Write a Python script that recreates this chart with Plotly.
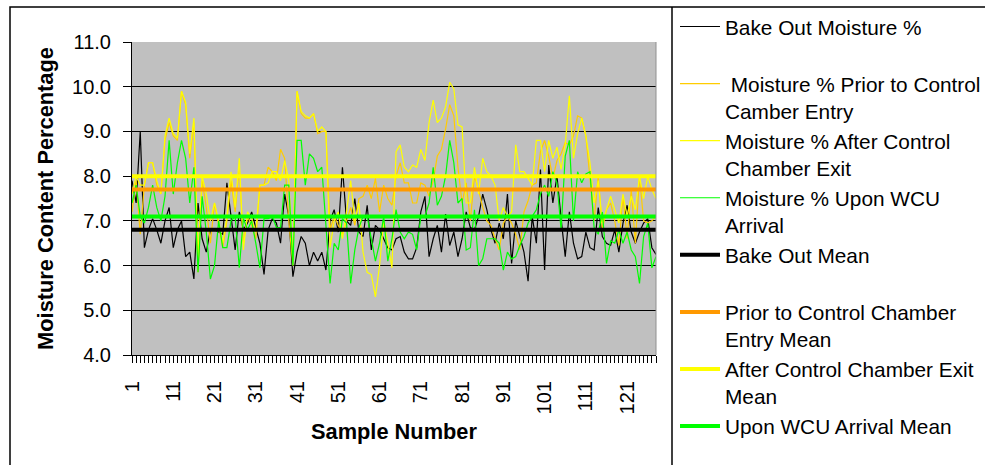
import plotly.graph_objects as go

samples = list(range(1, 129))

bake_out = [
    7.9, 7.4, 9.0, 6.4, 6.8, 7.05, 6.8, 6.5, 7.0, 7.3, 6.4, 6.8, 7.0, 6.2, 6.3, 5.7, 7.4, 6.6, 6.3, 6.8,
    6.8, 6.75, 6.7, 7.85, 7.1, 6.35, 7.2, 6.8, 6.95, 7.2, 6.85, 6.5, 5.8, 6.8, 7.05, 6.95, 6.5, 7.6, 7.1, 5.75, 6.3,
    6.65, 6.5, 6.0, 6.3, 6.1, 6.3, 5.9, 7.0, 7.25, 6.75, 8.2, 7.0, 6.9, 7.5, 6.75, 6.65, 7.35, 6.35, 6.9, 6.8, 6.6,
    6.4, 6.35, 6.6, 6.65, 6.3, 6.15, 6.15, 6.4, 7.2, 7.55, 6.2, 6.6, 6.9, 6.3, 7.15, 6.45, 6.75, 6.2, 6.6, 7.2, 6.85,
    6.8, 7.1, 7.6, 7.25, 6.8, 6.5, 6.95, 6.6, 7.6, 6.05, 7.0, 6.65, 6.3, 5.65, 7.1, 6.5, 8.15, 5.9, 8.25, 7.4, 8.0,
    7.05, 6.2, 7.2, 6.5, 6.15, 6.2, 6.75, 6.4, 6.35, 7.3, 6.65, 6.5, 6.45, 6.8, 6.3, 6.95, 7.35, 6.75, 6.5, 6.75,
    6.95, 7.05, 6.4, 6.25,
]

prior_entry = [
    7.2, 7.9, 6.7, 7.8, 8.3, 8.3, 7.8, 7.6, 8.8, 9.2, 8.9, 8.8, 9.9, 9.6, 8.4, 9.2, 5.85, 7.9, 7.3, 6.5,
    7.4, 6.9, 6.4, 7.0, 7.9, 7.2, 8.2, 6.5, 7.1, 6.9, 6.6, 7.8, 7.8, 8.2, 8.1, 7.9, 8.6, 8.4, 7.0, 6.0, 9.9,
    9.4, 9.3, 9.3, 9.4, 8.95, 9.0, 9.0, 6.8, 7.1, 6.9, 6.7, 7.0, 7.3, 6.9, 7.5, 7.55, 7.8, 7.5, 7.95, 7.2, 7.8,
    7.5, 7.35, 8.0, 8.3, 7.85, 7.85, 7.4, 7.4, 7.85, 7.8, 7.55, 7.9, 8.45, 8.6, 9.05, 9.6, 9.35, 8.2, 7.4, 7.85, 7.0,
    8.0, 7.7, 7.3, 7.0, 6.9, 6.6, 6.35, 6.95, 7.1, 6.95, 6.7, 6.35, 7.2, 7.45, 7.8, 7.85, 8.55, 8.8, 8.45, 7.95, 8.35,
    8.5, 8.75, 8.7, 8.9, 9.35, 9.3, 8.9, 8.0, 7.0, 8.0, 6.8, 7.25, 7.4, 7.0, 6.45, 7.55, 6.6, 7.7, 6.5, 8.0,
    7.0, 6.95, 7.0, 7.1,
]

after_exit = [
    7.6, 8.0, 7.8, 7.8, 8.3, 8.3, 7.9, 7.6, 8.9, 9.3, 8.95, 8.85, 9.9, 9.65, 8.5, 9.3, 6.2, 8.0, 7.6, 7.0,
    7.4, 7.0, 6.5, 7.1, 8.1, 7.3, 8.4, 6.35, 7.2, 7.05, 6.75, 7.8, 7.8, 7.85, 8.1, 8.1, 7.9, 8.35, 7.9, 6.1, 9.9,
    9.45, 9.35, 9.3, 9.4, 9.0, 9.1, 9.0, 6.4, 7.0, 7.2, 6.6, 7.2, 7.9, 7.0, 7.4, 6.3, 5.85, 5.8, 5.3, 6.0, 7.0,
    6.5, 5.95, 8.55, 8.7, 8.2, 8.1, 8.25, 8.2, 8.6, 8.35, 9.2, 9.7, 9.2, 9.3, 9.55, 10.1, 9.95, 9.15, 9.1, 7.4, 7.4,
    8.2, 7.6, 8.4, 8.1, 8.0, 7.8, 7.0, 7.3, 7.1, 7.2, 8.7, 8.1, 8.1, 7.95, 7.8, 8.8, 8.8, 8.1, 8.8, 8.4, 8.65,
    8.15, 8.7, 9.8, 8.4, 8.95, 9.3, 8.9, 8.3, 7.4, 7.9, 6.95, 7.25, 7.55, 7.25, 6.95, 7.6, 7.1, 7.55, 7.25, 8.0,
    7.5, 8.0, 7.7, 7.5,
]

wcu_arrival = [
    7.4, 7.8, 7.1, 6.95, 7.3, 7.8, 7.3, 7.0, 7.55, 8.8, 7.6, 8.3, 8.8, 8.4, 7.4, 8.2, 5.85, 7.55, 6.75, 5.7,
    6.0, 7.0, 6.4, 6.4, 7.0, 7.1, 5.95, 7.05, 6.8, 7.0, 6.5, 5.95, 7.05, 7.05, 7.1, 6.85, 6.85, 7.8, 7.8, 6.0, 8.8,
    8.8, 7.8, 8.5, 8.4, 8.1, 8.2, 6.9, 5.6, 6.5, 6.35, 7.05, 6.95, 5.6, 6.35, 6.85, 7.1, 7.1, 6.6, 6.1, 6.5, 7.1,
    6.1, 6.6, 7.25, 6.75, 6.6, 6.75, 6.7, 6.35, 7.1, 7.1, 7.4, 8.2, 7.35, 7.55, 8.0, 8.8, 8.3, 7.4, 7.5, 6.35, 6.4,
    7.25, 6.0, 6.15, 6.6, 6.6, 6.6, 6.5, 5.9, 6.3, 6.15, 6.2, 6.45, 6.65, 6.95, 7.1, 7.25, 7.6, 7.8, 7.55, 8.1, 7.85,
    6.8, 8.45, 8.8, 7.0, 8.1, 7.85, 8.05, 8.1, 6.85, 6.7, 7.2, 6.05, 6.55, 6.5, 6.8, 6.5, 6.75, 6.35, 6.2, 5.6,
    6.65, 6.95, 5.95, 6.2,
]

series_names = ["Bake Out Moisture %<br> ", "\u00a0Moisture % Prior to Control<br>Camber Entry",
                "Moisture % After Control<br>Chamber Exit", "Moisture % Upon WCU<br>Arrival"]
series_values = [bake_out, prior_entry, after_exit, wcu_arrival]
series_colors = ["#000000", "#FFCC00", "#FFFF00", "#00FF00"]

mean_names = ["Bake Out Mean<br> ", "Prior to Control Chamber<br>Entry Mean",
              "After Control Chamber Exit<br>Mean", "Upon WCU Arrival Mean<br> "]
mean_values = [6.8, 7.7, 8.0, 7.1]
mean_colors = ["#000000", "#FF9900", "#FFFF00", "#00FF00"]

x_tick_labels = [str(v) for v in range(1, 129, 10)]

FONT = "Arial, 'Liberation Sans', sans-serif"

fig = go.Figure()
for name, vals, col in zip(series_names, series_values, series_colors):
    fig.add_trace(go.Scatter(x=samples, y=vals, mode="lines", name=name,
                             line=dict(color=col, width=1.2)))
for name, m, col in zip(mean_names, mean_values, mean_colors):
    fig.add_trace(go.Scatter(x=[samples[0], samples[-1]], y=[m, m], mode="lines", name=name,
                             line=dict(color=col, width=4)))

W, H = 985, 465
L, R, T, B = 132, 329, 42, 110
pw, ph = W - L - R, H - T - B

def px(xp):
    return (xp - L) / pw

def py(yp):
    return (H - B - yp) / ph

fig.update_layout(
    width=W, height=H,
    margin=dict(l=L, r=R, t=T, b=B, autoexpand=False),
    paper_bgcolor="white",
    plot_bgcolor="#C0C0C0",
    font=dict(family=FONT, color="black", size=20),
    showlegend=True,
    legend=dict(x=px(675), y=py(6.5), xanchor="left", yanchor="top",
                font=dict(size=20.8, family=FONT), bgcolor="rgba(0,0,0,0)",
                borderwidth=0, valign="top", itemwidth=40, tracegroupgap=0,
                itemclick=False, maxheight=2000),
    xaxis=dict(range=[1, 128], tickmode="array",
               tickvals=[int(v) for v in x_tick_labels], ticktext=x_tick_labels,
               tickangle=-90, ticks="outside", ticklen=7, tickcolor="black",
               tickfont=dict(size=20), showgrid=False, zeroline=False,
               showline=True, linecolor="black", linewidth=1,
               minor=dict(dtick=1, tick0=1, ticks="outside", ticklen=7, tickcolor="black"),
               ticklabelstandoff=10,
               title=dict(text="<b>Sample Number</b>", font=dict(size=21.8), standoff=10)),
    yaxis=dict(range=[4, 11.001], dtick=1, tick0=4, tickformat=".1f",
               ticks="outside", ticklen=8, tickcolor="black",
               tickfont=dict(size=20), showgrid=True, gridcolor="black", gridwidth=1,
               zeroline=False, showline=True, linecolor="black", linewidth=1,
               ticklabelstandoff=8,
               title=dict(text="<b>Moisture Content Percentage</b>", font=dict(size=21.8), standoff=12)),
    shapes=[
        dict(type="rect", xref="paper", yref="paper", x0=px(10), x1=px(995), y0=py(7), y1=py(475),
             line=dict(color="black", width=1.5), fillcolor="rgba(0,0,0,0)"),
        dict(type="line", xref="paper", yref="paper", x0=px(672), x1=px(672), y0=py(7), y1=py(475),
             line=dict(color="black", width=1.5)),
        dict(type="line", xref="paper", yref="paper", x0=1, x1=1, y0=0, y1=1,
             line=dict(color="#909090", width=1)),
    ],
)

fig.write_html("out.html")
